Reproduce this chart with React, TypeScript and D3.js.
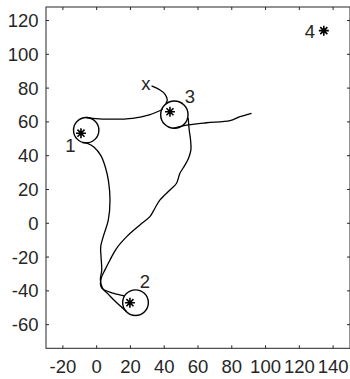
import * as d3 from "d3";

const xTicks = [-20, 0, 20, 40, 60, 80, 100, 120, 140];
const yTicks = [-60, -40, -20, 0, 20, 40, 60, 80, 100, 120];

// trajectory legs, [x, y] in plot units
const legStartToThree: [number, number][] = [
  [32.5, 81.3], [37.5, 78.9], [40.4, 76.5], [41.8, 73.0], [41.0, 71.0],
];
const legOneToThree: [number, number][] = [
  [-6.2, 62.6], [-2.4, 62.1], [9.5, 61.6], [21.3, 62.1], [31.1, 64.1], [39.1, 67.5],
];
const legThreeToTwo: [number, number][] = [
  [54.2, 62.3], [54.8, 55.2], [55.6, 49.3], [55.8, 43.4], [54.4, 38.5], [52.0, 34.0],
  [49.3, 29.6], [47.3, 23.7], [43.4, 19.7], [37.5, 13.8], [34.5, 8.9], [31.5, 3.9],
  [25.6, -1.0], [17.8, -7.9], [11.8, -14.8], [7.9, -21.7], [4.9, -27.6], [3.0, -31.6],
  [2.2, -35.5], [3.0, -38.4], [9.8, -41.4], [16.3, -43.0],
];
const legTwoToOne: [number, number][] = [
  [17.8, -52.3], [11.4, -46.6], [6.7, -41.8], [3.5, -38.5], [2.2, -33.5], [3.0, -27.6],
  [2.6, -20.0], [2.4, -13.8], [3.9, -7.9], [6.9, 2.0], [7.9, 13.8], [7.0, 25.0],
  [5.2, 33.0], [2.5, 40.0], [-1.5, 45.0], [-5.5, 47.3], [-8.5, 47.8],
];
const legExit: [number, number][] = [
  [45.3, 56.2], [54.2, 58.2], [65.1, 59.5], [78.9, 60.7], [84.8, 63.1], [91.7, 65.1],
];

const loiters = [
  { cx: -6.2, cy: 55.1, r: 7.5 },
  { cx: 23.0, cy: -47.0, r: 7.6 },
  { cx: 46.0, cy: 64.3, r: 8.1 },
];

const waypoints = [
  { id: "1", x: -9.3, y: 53.3, lx: -15.6, ly: 46.3 },
  { id: "2", x: 19.7, y: -47.0, lx: 28.6, ly: -34.5 },
  { id: "3", x: 43.4, y: 66.0, lx: 55.2, ly: 74.9 },
  { id: "4", x: 134.5, y: 114.0, lx: 126.2, ly: 113.8 },
];

const startMark = { x: 29.2, y: 81.8 };

const W = 350;
const H = 379;
const font = "'Liberation Sans', Arial, Helvetica, sans-serif";
const axisColor = "#262626";
const fs = 18.5;

function asterisk(cx: number, cy: number, r: number) {
  const p = d3.path();
  for (let i = 0; i < 4; i++) {
    const a = (i * Math.PI) / 4;
    p.moveTo(cx - r * Math.cos(a), cy - r * Math.sin(a));
    p.lineTo(cx + r * Math.cos(a), cy + r * Math.sin(a));
  }
  return p.toString();
}

export default function App() {
  const x = d3.scaleLinear().domain([-30, 150]).range([46, 350]);
  const y = d3.scaleLinear().domain([-74, 128]).range([348.3, 7]);

  const line = d3
    .line<[number, number]>()
    .x((d) => x(d[0]))
    .y((d) => y(d[1]))
    .curve(d3.curveCatmullRom.alpha(0.5));

  const legs = [legStartToThree, legOneToThree, legThreeToTwo, legTwoToOne, legExit];
  const [x0, x1] = x.range();
  const [y0, y1] = y.range();
  const tick = 3;

  return (
    <svg
      width={W}
      height={H}
      style={{ position: "absolute", left: 0, top: 0, background: "#fff" }}
      fontFamily={font}
    >
      {/* frame */}
      <rect x={x0} y={y1} width={x1 - x0} height={y0 - y1} fill="none" stroke={axisColor} strokeWidth={1} />

      {/* ticks, inward on all sides */}
      {xTicks.map((t) => (
        <g key={"x" + t}>
          <line x1={x(t)} x2={x(t)} y1={y0} y2={y0 - tick} stroke={axisColor} />
          <line x1={x(t)} x2={x(t)} y1={y1} y2={y1 + tick} stroke={axisColor} />
          <text x={x(t)} y={372.5} textAnchor="middle" fontSize={fs} fill={axisColor}>
            {t}
          </text>
        </g>
      ))}
      {yTicks.map((t) => (
        <g key={"y" + t}>
          <line x1={x0} x2={x0 + tick} y1={y(t)} y2={y(t)} stroke={axisColor} />
          <line x1={x1 - tick} x2={x1} y1={y(t)} y2={y(t)} stroke={axisColor} />
          <text x={38.5} y={y(t) + 6.6} textAnchor="end" fontSize={fs} fill={axisColor}>
            {t}
          </text>
        </g>
      ))}

      {/* trajectory */}
      {legs.map((leg, i) => (
        <path key={i} d={line(leg) || ""} fill="none" stroke="#000" strokeWidth={1.3} />
      ))}
      {loiters.map((c, i) => (
        <circle
          key={i}
          cx={x(c.cx)}
          cy={y(c.cy)}
          r={x(c.r) - x(0)}
          fill="none"
          stroke="#000"
          strokeWidth={1.4}
        />
      ))}

      {/* waypoints */}
      {waypoints.map((w) => (
        <g key={w.id}>
          <path d={asterisk(x(w.x), y(w.y), 5)} stroke="#000" strokeWidth={1.6} />
          <text x={x(w.lx)} y={y(w.ly) + 6.6} textAnchor="middle" fontSize={fs} fill={axisColor}>
            {w.id}
          </text>
        </g>
      ))}

      <text x={x(startMark.x)} y={y(startMark.y) + 4.8} textAnchor="middle" fontSize={fs} fill={axisColor}>
        x
      </text>
    </svg>
  );
}
